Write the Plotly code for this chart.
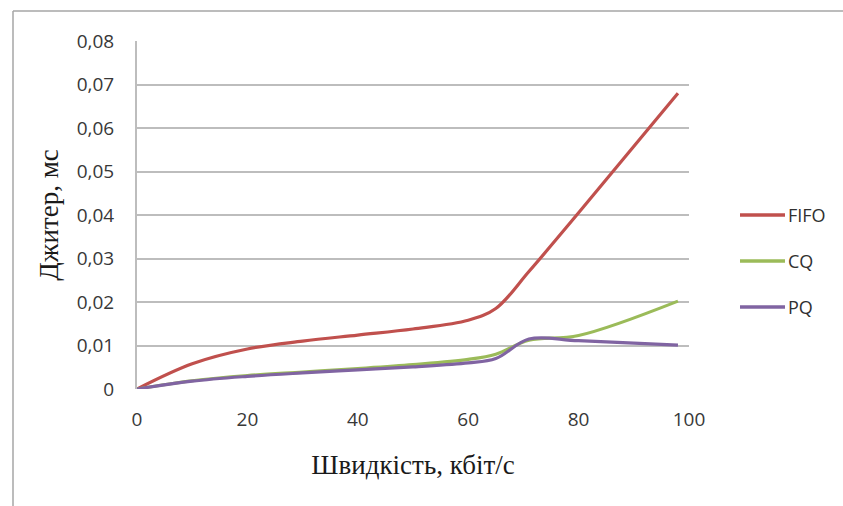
import plotly.graph_objects as go

# Data rate, kbit/s
speed = [0, 10, 20, 30, 40, 50, 60, 65, 71, 80, 98]

# Jitter, ms
fifo = [0, 0.0058, 0.0092, 0.0110, 0.0124, 0.0138, 0.0158, 0.0185, 0.0270, 0.0405, 0.0680]
cq = [0, 0.0019, 0.0031, 0.0039, 0.0047, 0.0056, 0.0068, 0.0080, 0.0112, 0.0123, 0.0202]
pq = [0, 0.0018, 0.0029, 0.0037, 0.0044, 0.0051, 0.0060, 0.0070, 0.0115, 0.0111, 0.0101]

names = ["FIFO", "CQ", "PQ"]
colors = ["#c0504d", "#9bbb59", "#8064a2"]
values = [fifo, cq, pq]

x_ticks = [0, 20, 40, 60, 80, 100]
y_ticks = [0, 0.01, 0.02, 0.03, 0.04, 0.05, 0.06, 0.07, 0.08]
y_tick_text = ["0", "0,01", "0,02", "0,03", "0,04", "0,05", "0,06", "0,07", "0,08"]

W, H = 843, 506
L, R, T, B = 137, 154, 41, 117
pw, ph = W - L - R, H - T - B


def px_to_paper_x(px):
    return (px - L) / pw


def px_to_paper_y(py):
    return (H - B - py) / ph


fig = go.Figure()
for name, vals, color in zip(names, values, colors):
    fig.add_trace(go.Scatter(
        x=speed, y=vals, name=name, mode="lines",
        line=dict(color=color, width=3.2, shape="spline", smoothing=1),
        showlegend=False,
    ))

grid_col = "#bdbdbd"
tick_font = dict(family="Open Sans", size=19, color="#383838")
title_font = dict(family="Liberation Serif", size=27, color="#1a1a1a")

fig.update_layout(
    width=W, height=H,
    margin=dict(l=L, r=R, t=T, b=B, pad=0),
    paper_bgcolor="white", plot_bgcolor="white",
    xaxis=dict(
        range=[0, 100], tickvals=x_ticks, showgrid=False, zeroline=False,
        showline=False, ticks="", tickfont=tick_font, ticklabelstandoff=17,
        title=dict(text="Швидкість, кбіт/с", font=title_font, standoff=24),
    ),
    yaxis=dict(
        range=[0, 0.08], tickvals=y_ticks, ticktext=y_tick_text,
        showgrid=True, gridcolor=grid_col, gridwidth=2, zeroline=False,
        showline=True, linecolor=grid_col, linewidth=2, ticks="",
        ticklabelstandoff=17, tickfont=tick_font,
        title=dict(text="Джитер, мс", font=title_font, standoff=10),
    ),
    showlegend=False,
)

# Legend on the right: a short colour stroke followed by the series name
legend_rows = [215, 261, 307]
for name, color, row in zip(names, colors, legend_rows):
    fig.add_shape(type="line", xref="paper", yref="paper",
                  x0=px_to_paper_x(740), x1=px_to_paper_x(785),
                  y0=px_to_paper_y(row), y1=px_to_paper_y(row),
                  line=dict(color=color, width=3.5))
    fig.add_annotation(xref="paper", yref="paper",
                       x=px_to_paper_x(786), y=px_to_paper_y(row),
                       xanchor="left", yanchor="middle", showarrow=False,
                       text=name, font=dict(family="Open Sans", size=18, color="#303030"))

# Outer chart frame (top and left edges)
frame_col = "#a6a6a6"
fig.add_shape(type="line", xref="paper", yref="paper",
              x0=px_to_paper_x(13), x1=px_to_paper_x(W + 5),
              y0=px_to_paper_y(11), y1=px_to_paper_y(11),
              line=dict(color=frame_col, width=1.5))
fig.add_shape(type="line", xref="paper", yref="paper",
              x0=px_to_paper_x(13), x1=px_to_paper_x(13),
              y0=px_to_paper_y(11), y1=px_to_paper_y(H + 5),
              line=dict(color=frame_col, width=1.5))

fig.write_html("out.html")
